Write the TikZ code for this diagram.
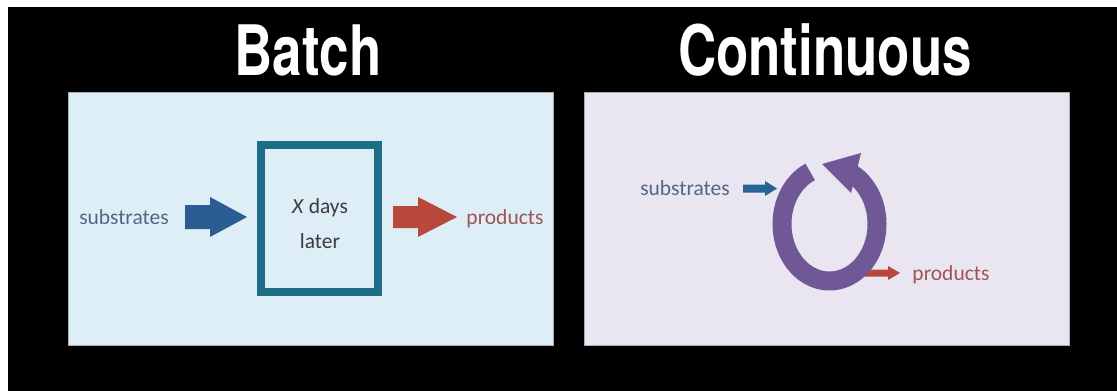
\documentclass[tikz,border=0pt]{standalone}
\usepackage{fontspec}
\setmainfont{Carlito}
\newfontfamily\titlefont[FakeStretch=0.76]{TeX Gyre Heros}
\definecolor{leftbg}{RGB}{222,238,246}
\definecolor{rightbg}{RGB}{233,230,241}
\definecolor{subtxt}{RGB}{80,104,134}
\definecolor{prodtxt}{RGB}{158,84,84}
\definecolor{bluearr}{RGB}{43,92,146}
\definecolor{bluearrB}{RGB}{40,100,145}
\definecolor{redarr}{RGB}{184,72,60}
\definecolor{tealbox}{RGB}{30,108,134}
\definecolor{darktxt}{RGB}{60,60,60}
\definecolor{ringcol}{RGB}{112,87,150}
\definecolor{panelline}{RGB}{170,170,175}
\tikzset{
  title/.style={text=white, inner sep=0pt, anchor=base, font=\titlefont\bfseries\fontsize{69.6}{70}\selectfont},
  lbl/.style={inner sep=0pt, anchor=base, font=\fontsize{21.5}{24}\selectfont},
  panel/.style={draw=panelline, line width=0.8pt},
}
\begin{document}
\begin{tikzpicture}[x=1pt, y=-1pt]
\useasboundingbox (0,0) rectangle (1117,391);
\fill[white] (0,0) rectangle (1117,391);
\fill[black] (8,7) rectangle (1117,391);
% titles
\node[title] (tb) at (308,75) {Batch};
\node[title] (tc) at (825,75) {Continuous};
% panels
\filldraw[panel, fill=leftbg] (68,92) rectangle (553,345);
\filldraw[panel, fill=rightbg] (584,92) rectangle (1069,345);
% ---------- Batch ----------
\node[lbl, text=subtxt] (s1) at (124,224) {substrates};
\fill[bluearr] (185,205) -- (210,205) -- (210,197) -- (247,217) -- (210,237) -- (210,229) -- (185,229) -- cycle;
\draw[tealbox, line width=8pt] (261,145) rectangle (377.5,291.5);
\node[lbl, text=darktxt] (x1) at (320,213) {\textit{X} days};
\node[lbl, text=darktxt] (x2) at (320,248) {later};
\fill[redarr] (393,206) -- (418,206) -- (418,197) -- (457,217) -- (418,237) -- (418,228) -- (393,228) -- cycle;
\node[lbl, text=prodtxt] (p1) at (505,224) {products};
% ---------- Continuous ----------
\node[lbl, text=subtxt] (s2) at (685,195) {substrates};
\fill[bluearrB] (743,184.5) -- (765,184.5) -- (765,181) -- (777,188.5) -- (765,196) -- (765,192.5) -- (743,192.5) -- cycle;
\fill[redarr] (860,269.5) -- (888,269.5) -- (888,266) -- (900,273) -- (888,280) -- (888,276.5) -- (860,276.5) -- cycle;
\node[lbl, text=prodtxt] (p2) at (951,280) {products};
\draw[ringcol, line width=19pt, line cap=butt] plot[domain=114:426, samples=120] ({829.5+47.5*cos(\x)},{224-57*sin(\x)});
\fill[ringcol] (861,153) -- (822,164) -- (851,193) -- cycle;
\end{tikzpicture}
\end{document}
